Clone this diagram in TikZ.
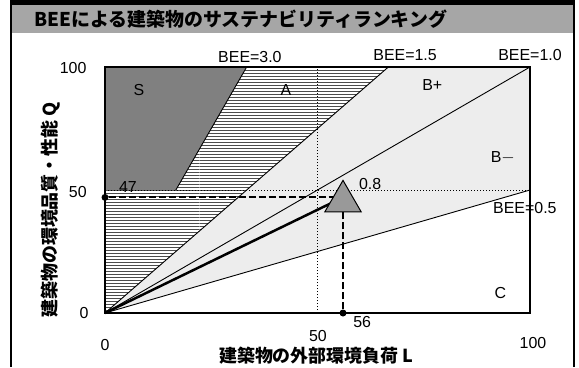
\documentclass[tikz,border=0pt]{standalone}
\usepackage{fontspec}
\setmainfont{Liberation Sans}
\newfontfamily\jp{Noto Sans CJK JP}
\usetikzlibrary{patterns,shapes.geometric}

\begin{document}
\begin{tikzpicture}[x=1bp,y=1bp,
    lab/.style={font=\fontsize{16}{18}\selectfont, inner sep=0pt},
    axtitle/.style={font=\jp\bfseries\fontsize{18}{20}\selectfont, inner sep=0pt},
    guide/.style={line width=1bp, dash pattern=on 1.2bp off 1.8bp},
    result/.style={line width=2bp, dash pattern=on 7bp off 3bp},
    beeline/.style={line width=0.9bp},
    dotmark/.style={circle, fill=black, inner sep=0pt, minimum size=7bp}]
    \useasboundingbox (0,0) rectangle (579,367);

    % title band and outer frame
    \fill[black!35] (11,334) rectangle (574,367);
    \fill[black] (11,362) rectangle (574,367);
    \draw[line width=2bp] (11,0) -- (11,367) (574,0) -- (574,367);
    \node[font=\jp\bfseries\fontsize{19}{21}\selectfont, anchor=west, inner sep=0pt] (title) at (34,348)
        {BEEによる建築物のサステナビリティランキング};

    \begin{scope}[shift={(105,54)}, x=4.25bp, y=2.46bp]
        \coordinate (O) at (0,0);
        \coordinate (P) at (56,47);
        \coordinate (Qp) at (0,47);
        \coordinate (Lp) at (56,0);
        \coordinate (s50) at (16.67,50);
        \coordinate (b30) at (33.33,100);
        \coordinate (b15) at (66.67,100);
        \coordinate (b10) at (100,100);
        \coordinate (b05) at (100,50);

        % ranking areas
        \fill[black!7] (O) -- (b10) -- (b15) -- cycle;
        \fill[black!7] (O) -- (b05) -- (b10) -- cycle;
        \fill[pattern=horizontal lines, pattern color=black!70]
            (O) -- (b15) -- (b30) -- (s50) -- (0,50) -- cycle;
        \fill[black!50] (0,50) -- (s50) -- (b30) -- (0,100) -- cycle;

        % BEE lines
        \draw[beeline] (s50) -- (b30);
        \draw[beeline] (O) -- (b15);
        \draw[beeline] (O) -- (b10);
        \draw[beeline] (O) -- (b05);

        % guides at 50
        \draw[guide] (50,0) -- (50,100);
        \draw[guide] (0,50) -- (100,50);

        \draw[line width=1.5bp] (0,0) rectangle (100,100);

        % building result
        \node[dotmark] (qdot) at (Qp) {};
        \node[dotmark] (ldot) at (Lp) {};
        \draw[line width=2.5bp] (O) -- (P);
        \draw[result] (qdot) -- (P);
        \draw[result] (ldot) -- (P);
        \node[regular polygon, regular polygon sides=3, draw, line width=1bp, fill=black!40,
            minimum size=42bp, inner sep=0pt, yshift=-4bp] (bld) at (P) {};

        % area names
        \node[lab] (rS) at (8,90.5) {S};
        \node[lab] (rA) at (42.6,90.6) {A};
        \node[lab] (rBp) at (77,92.7) {B+};
        \node[lab] (rBm) at (93.6,63) {B$-$};
        \node[lab] (rC) at (93,8) {C};

        % line names
        \node[lab] (l30) at (34.1,104) {BEE=3.0};
        \node[lab] (l15) at (70.6,105) {BEE=1.5};
        \node[lab] (l10) at (100,105) {BEE=1.0};
        \node[lab] (l05) at (98.8,42.7) {BEE=0.5};
        \node[lab] (l08) at (62.4,52.4) {0.8};
        \node[lab] (v47) at (5.4,51.2) {47};
        \node[lab] (v56) at (60.5,-3.7) {56};

        % axes
        \node[lab] (y100) at (-7.5,99.6) {100};
        \node[lab] (y50) at (-6.4,49.2) {50};
        \node[lab] (y0) at (-4.9,0) {0};
        \node[lab] (x0) at (0,-13) {0};
        \node[lab] (x50) at (50.1,-9.4) {50};
        \node[lab] (x100) at (100.7,-12.2) {100};
        \node[axtitle] (xt) at (49.7,-17.2) {建築物の外部環境負荷 L};
        \node[axtitle, rotate=90] (yt) at (-12.9,41.9) {建築物の環境品質・性能 Q};
    \end{scope}
\end{tikzpicture}
\end{document}
